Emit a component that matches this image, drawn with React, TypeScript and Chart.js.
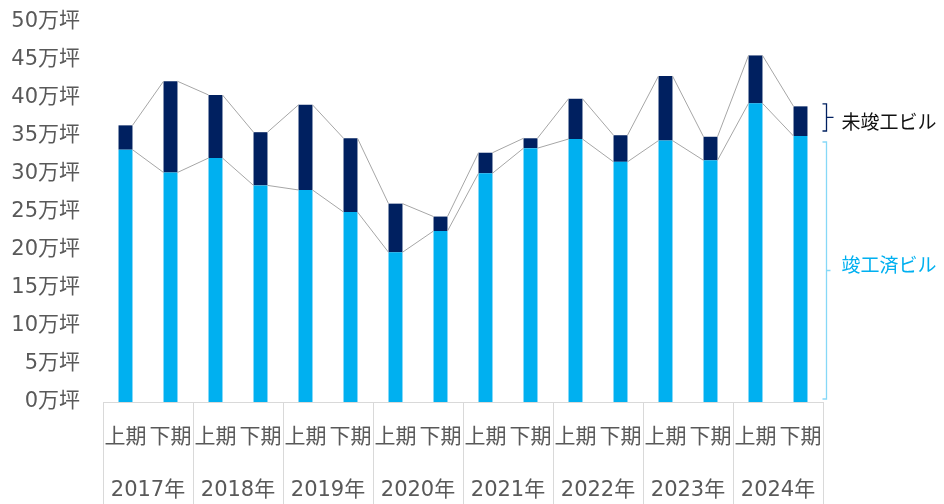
import React, { useEffect, useRef } from "react";
import { Chart, registerables } from "chart.js";

Chart.register(...registerables);

const years = ["2017年", "2018年", "2019年", "2020年", "2021年", "2022年", "2023年", "2024年"];
const halfLabels = ["上期", "下期"];
const periodLabels = years.flatMap(() => halfLabels);
const completed = [33.2, 30.2, 32.1, 28.5, 27.9, 25.0, 19.7, 22.5, 30.1, 33.4, 34.6, 31.6, 34.4, 31.8, 39.3, 35.0];
const uncompleted = [3.2, 12.0, 8.3, 7.0, 11.2, 9.7, 6.4, 1.9, 2.7, 1.3, 5.3, 3.5, 8.5, 3.1, 6.3, 3.9];
const yTicks = [0, 5, 10, 15, 20, 25, 30, 35, 40, 45, 50];
const legendCompleted = "竣工済ビル";
const legendUncompleted = "未竣工ビル";

const FONT = "'DejaVu Sans', 'Noto Sans CJK JP', sans-serif";
const LIGHT = "#00B0F0";
const DARK = "#002060";
const GRIDC = "#d9d9d9";
const TEXTC = "#595959";

const seriesLines = {
  id: "seriesLines",
  afterDatasetsDraw(chart: any) {
    const ctx = chart.ctx;
    ctx.save();
    ctx.strokeStyle = "#a6a6a6";
    ctx.lineWidth = 1;
    for (let d = 0; d < 2; d++) {
      const els = chart.getDatasetMeta(d).data;
      ctx.beginPath();
      for (let i = 0; i < els.length - 1; i++) {
        const a = els[i];
        const b = els[i + 1];
        ctx.moveTo(a.x + a.width / 2, a.y);
        ctx.lineTo(b.x - b.width / 2, b.y);
      }
      ctx.stroke();
    }
    ctx.restore();
  },
};

const yearLines = {
  id: "yearLines",
  afterDraw(chart: any) {
    const ctx = chart.ctx;
    const xs = chart.scales.x;
    const half = (xs.getPixelForValue(1) - xs.getPixelForValue(0)) / 2;
    const bottom = chart.chartArea.bottom;
    ctx.save();
    ctx.strokeStyle = GRIDC;
    ctx.lineWidth = 1;
    ctx.beginPath();
    for (let k = 0; k <= years.length; k++) {
      const x = Math.round(xs.getPixelForValue(k * 2) - half) + 0.5;
      ctx.moveTo(x, bottom);
      ctx.lineTo(x, chart.height);
    }
    ctx.stroke();
    ctx.restore();
  },
};

const bracketLegend = {
  id: "bracketLegend",
  afterDraw(chart: any) {
    const ctx = chart.ctx;
    const n = completed.length - 1;
    const light = chart.getDatasetMeta(0).data[n];
    const dark = chart.getDatasetMeta(1).data[n];
    const bx = Math.round(chart.chartArea.right + 3) + 0.5;
    const drawBracket = (top: number, bottom: number, color: string, nub: number, lw: number) => {
      const mid = (top + bottom) / 2;
      ctx.strokeStyle = color;
      ctx.lineWidth = lw;
      ctx.beginPath();
      ctx.moveTo(bx - 4, top);
      ctx.lineTo(bx, top);
      ctx.lineTo(bx, bottom);
      ctx.lineTo(bx - 4, bottom);
      ctx.moveTo(bx, mid);
      ctx.lineTo(bx + nub, mid);
      ctx.stroke();
      return mid;
    };
    ctx.save();
    const dTop = dark.y - 2.5;
    const dBot = dark.base - 5;
    const dMid = drawBracket(dTop, dBot, DARK, 7, 1.3);
    const lTop = light.y + 6;
    const lBot = light.base - 3;
    const lMid = drawBracket(lTop, lBot, "#86d8f7", 4, 1.3);
    ctx.font = `19px ${FONT}`;
    ctx.textAlign = "left";
    ctx.textBaseline = "middle";
    ctx.fillStyle = "#111111";
    ctx.fillText(legendUncompleted, bx + 15, dMid + 7);
    ctx.fillStyle = LIGHT;
    ctx.fillText(legendCompleted, bx + 15, lMid - 3);
    ctx.restore();
  },
};

export default function App() {
  const ref = useRef<HTMLCanvasElement | null>(null);
  useEffect(() => {
    document.body.style.margin = "0";
    const canvas = ref.current;
    if (!canvas) return;
    const chart = new Chart(canvas, {
      type: "bar",
      data: {
        labels: periodLabels,
        datasets: [
          {
            label: legendCompleted,
            data: completed,
            backgroundColor: LIGHT,
            barPercentage: 0.31,
            categoryPercentage: 1,
            stack: "s",
          },
          {
            label: legendUncompleted,
            data: uncompleted,
            backgroundColor: DARK,
            barPercentage: 0.31,
            categoryPercentage: 1,
            stack: "s",
          },
        ],
      },
      options: {
        responsive: false,
        animation: false,
        layout: { padding: { top: 22, right: 121, bottom: 2, left: 0 } },
        plugins: { legend: { display: false }, tooltip: { enabled: false } },
        scales: {
          x: {
            stacked: true,
            position: "bottom",
            afterFit: (s: any) => {
              s.height = 47;
            },
            grid: { display: false, drawTicks: false },
            border: { display: true, color: GRIDC, width: 1 },
            ticks: {
              color: TEXTC,
              font: { family: FONT, size: 21 },
              padding: 23,
              maxRotation: 0,
              autoSkip: false,
            },
          },
          x2: {
            type: "category",
            labels: years,
            position: "bottom",
            offset: true,
            afterFit: (s: any) => {
              s.height = 53;
            },
            grid: { display: false, drawTicks: false },
            border: { display: false },
            ticks: {
              color: TEXTC,
              font: { family: FONT, size: 21 },
              padding: 29,
              maxRotation: 0,
              autoSkip: false,
            },
          },
          y: {
            stacked: true,
            min: 0,
            max: 50,
            afterFit: (s: any) => {
              s.width = 103;
              s.paddingTop = 0;
              s.paddingBottom = 0;
            },
            afterBuildTicks: (s: any) => {
              s.ticks = yTicks.map((v) => ({ value: v }));
            },
            grid: { display: false, drawTicks: false },
            border: { display: false },
            ticks: {
              color: TEXTC,
              font: { family: FONT, size: 21 },
              padding: 23,
              callback: (v: any) => `${v}万坪`,
            },
          },
        },
      },
      plugins: [seriesLines, yearLines, bracketLegend],
    });
    return () => chart.destroy();
  }, []);
  return (
    <div style={{ width: 944, height: 504 }}>
      <canvas ref={ref} width={944} height={504} style={{ display: "block" }} />
    </div>
  );
}
